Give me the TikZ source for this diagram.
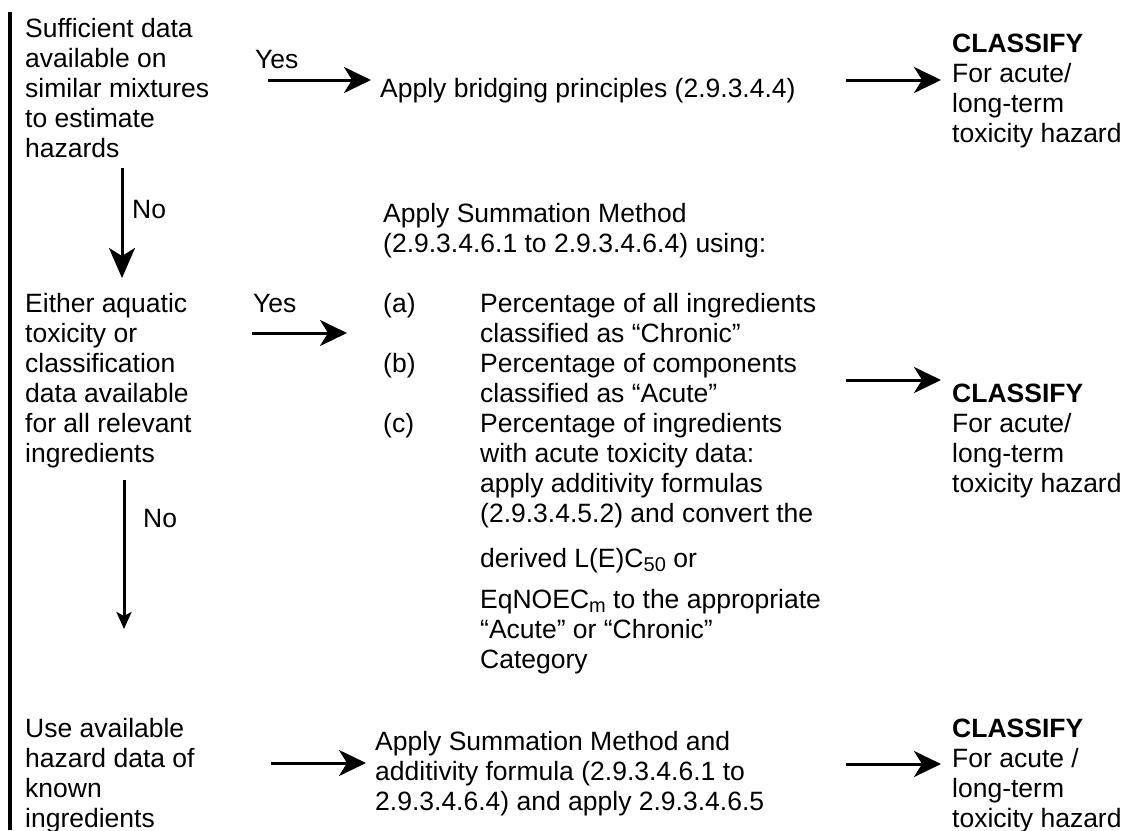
\documentclass[tikz,border=0pt]{standalone}
\usepackage{fontspec}
\setmainfont{Liberation Sans}
\usetikzlibrary{arrows.meta}
\tikzset{
  txt/.style={font=\fontsize{26.5}{30}\selectfont, inner sep=0pt, anchor=base west, align=left},
  bigarrow/.style={line width=3pt, -{Stealth[length=27pt,width=26pt,inset=8pt]}},
  downarrow/.style={line width=3pt, -{Stealth[length=30pt,width=26pt,inset=8pt]}},
  smallarrow/.style={line width=3pt, -{Stealth[length=17pt,width=15pt,inset=4pt]}},
  bar/.style={line width=3.8pt}
}
\newcommand{\subsc}[1]{{\fontsize{20}{20}\selectfont\raisebox{-4pt}{#1}}}
\begin{document}
\begin{tikzpicture}[x=1pt,y=-1pt]
\useasboundingbox[fill=white] (0,0) rectangle (1132,830);
% left bar
\coordinate (bartop) at (10,12);
\coordinate (barbot) at (10,830);
\draw[bar] (bartop) -- (barbot);

% left column (anchor = baseline of the last line)
\node[txt] (q1) at (25,157) {Sufficient data\\available on\\similar mixtures\\to estimate\\hazards};
\node[txt] (q2) at (25,462) {Either aquatic\\toxicity or\\classification\\data available\\for all relevant\\ingredients};
\node[txt] (q3) at (25,827) {Use available\\hazard data of\\known\\ingredients};

% yes / no labels
\node[txt] (yes1) at (255,68) {Yes};
\node[txt] (yes2) at (253,312) {Yes};
\node[txt] (no1) at (132,218) {No};
\node[txt] (no2) at (143,527) {No};

% middle column
\node[txt] (m1) at (380,97) {Apply bridging principles (2.9.3.4.4)};
\node[txt] (m2) at (383,252) {Apply Summation Method\\(2.9.3.4.6.1 to 2.9.3.4.6.4) using:};
\node[txt] (la) at (383,312) {(a)};
\node[txt] (lb) at (383,372) {(b)};
\node[txt] (lc) at (383,432) {(c)};
\node[txt] (m3) at (480,668) {Percentage of all ingredients\\classified as “Chronic”\\Percentage of components\\classified as “Acute”\\Percentage of ingredients\\with acute toxicity data:\\apply additivity formulas\\(2.9.3.4.5.2) and convert the\\[15pt]derived L(E)C\subsc{50} or\\[11pt]EqNOEC\subsc{m} to the appropriate\\“Acute” or “Chronic”\\Category};
\node[txt] (m4) at (375,810) {Apply Summation Method and\\additivity formula (2.9.3.4.6.1 to\\2.9.3.4.6.4) and apply 2.9.3.4.6.5};

% right column
\node[txt] (c1) at (952,142) {\textbf{CLASSIFY}\\For acute/\\long-term\\toxicity hazard};
\node[txt] (c2) at (952,492) {\textbf{CLASSIFY}\\For acute/\\long-term\\toxicity hazard};
\node[txt] (c3) at (952,827) {\textbf{CLASSIFY}\\For acute /\\long-term\\toxicity hazard};

% arrow end points
\coordinate (a1s) at (268,80);  \coordinate (a1e) at (371,80);
\coordinate (a2s) at (252,333); \coordinate (a2e) at (347,333);
\coordinate (a3s) at (271,763); \coordinate (a3e) at (366,763);
\coordinate (r1s) at (846,80);  \coordinate (r1e) at (941,80);
\coordinate (r2s) at (846,380); \coordinate (r2e) at (941,380);
\coordinate (r3s) at (846,764); \coordinate (r3e) at (941,764);
\coordinate (d1s) at (122,168); \coordinate (d1e) at (122,278);
\coordinate (d2s) at (124,480); \coordinate (d2e) at (124,629);

\draw[bigarrow] (a1s) -- (a1e);
\draw[bigarrow] (a2s) -- (a2e);
\draw[bigarrow] (a3s) -- (a3e);
\draw[bigarrow] (r1s) -- (r1e);
\draw[bigarrow] (r2s) -- (r2e);
\draw[bigarrow] (r3s) -- (r3e);
\draw[downarrow] (d1s) -- (d1e);
\draw[smallarrow] (d2s) -- (d2e);
\end{tikzpicture}
\end{document}
